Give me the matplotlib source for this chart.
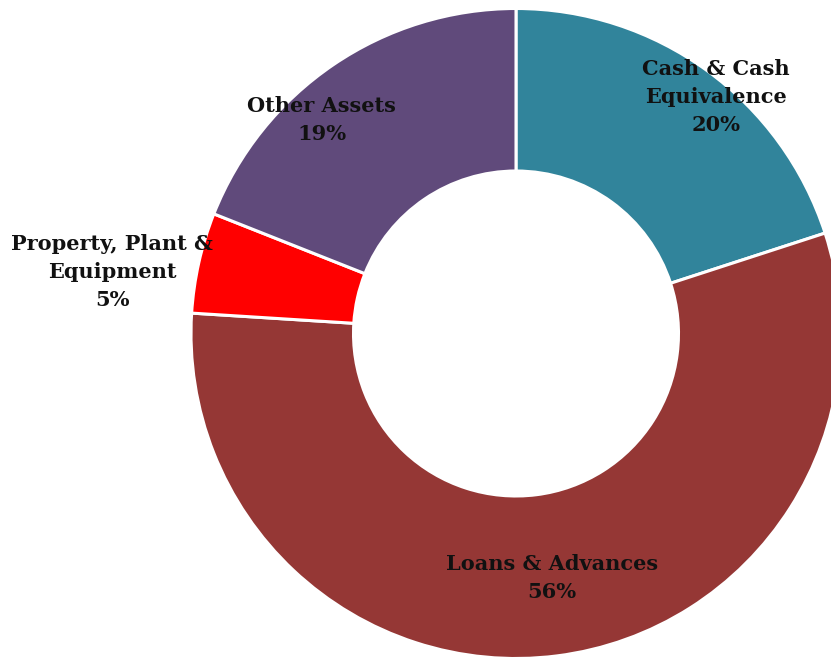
import numpy as np
import matplotlib.pyplot as plt

categories = ['Cash & Cash\nEquivalence', 'Loans & Advances', 'Property, Plant &\nEquipment', 'Other Assets']
shares = [20, 56, 5, 19]
colors = ['#31849B', '#953735', '#FF0000', '#604A7B']

# label placement as (radius, angle in degrees) relative to the donut centre
label_pos = [(0.953, 49.8), (0.76, -81.6), (1.257, 171.3), (0.888, 132.3)]

fig = plt.figure(figsize=(8.31, 6.59), dpi=100)
ax = fig.add_axes([0, 0, 1, 1])

wedges, _ = ax.pie(shares, colors=colors, startangle=90, counterclock=False,
                   radius=1.0, wedgeprops=dict(width=0.5, edgecolor='white', linewidth=2.2))

for name, val, (r, ang) in zip(categories, shares, label_pos):
    x = r * np.cos(np.radians(ang))
    y = r * np.sin(np.radians(ang))
    ax.text(x, y, f'{name}\n{val}%', ha='center', va='center', fontsize=15,
            fontweight='bold', family='DejaVu Serif', linespacing=1.5, color='#111111')

ax.set_xlim(-516 / 325, (831 - 516) / 325)
ax.set_ylim(-(659 - 333.5) / 325, 333.5 / 325)
ax.set_aspect('auto')
ax.axis('off')

fig.savefig('out.png', dpi=100)
